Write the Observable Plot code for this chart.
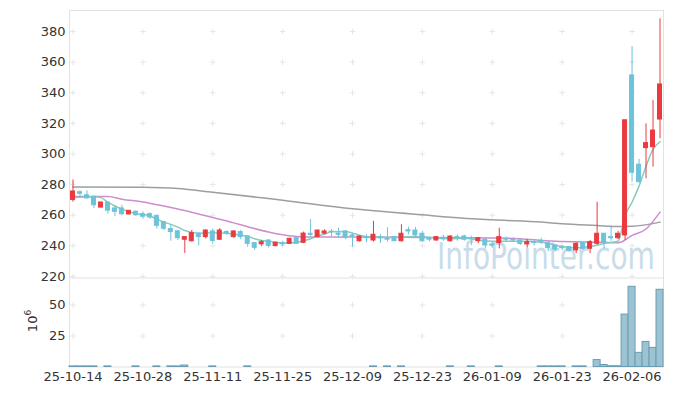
<!DOCTYPE html>
<html><head><meta charset="utf-8">
<script src="https://cdn.jsdelivr.net/npm/d3@7"></script>
<script src="https://cdn.jsdelivr.net/npm/@observablehq/plot@0.6"></script>
<style>
body{margin:0;background:#fff;}
#chart{width:673px;height:396px;position:relative;background:#fff;}
#chart svg{display:block;position:relative;}
#chart svg.wm{position:absolute;left:0;top:0;}
</style></head><body><div id="chart"></div>
<script>
const dates = ["25-10-14","25-10-15","25-10-16","25-10-17","25-10-20","25-10-21","25-10-22","25-10-23","25-10-24","25-10-27","25-10-28","25-10-29","25-10-30","25-10-31",
"25-11-03","25-11-04","25-11-05","25-11-06","25-11-07","25-11-10","25-11-11","25-11-12","25-11-13","25-11-14","25-11-17","25-11-18","25-11-19","25-11-20","25-11-21","25-11-24","25-11-25","25-11-26","25-11-27","25-11-28",
"25-12-01","25-12-02","25-12-03","25-12-04","25-12-05","25-12-08","25-12-09","25-12-10","25-12-11","25-12-12","25-12-15","25-12-16","25-12-17","25-12-18","25-12-19","25-12-22","25-12-23","25-12-24","25-12-26","25-12-29","25-12-30",
"26-01-02","26-01-05","26-01-06","26-01-07","26-01-08","26-01-09","26-01-12","26-01-13","26-01-14","26-01-15","26-01-16","26-01-19","26-01-20","26-01-21","26-01-22","26-01-23","26-01-26","26-01-27","26-01-28","26-01-29","26-01-30",
"26-02-02","26-02-03","26-02-04","26-02-05","26-02-06","26-02-09","26-02-10","26-02-11","26-02-12"];

const open  = [270,275,273,272,265,268.3,264.4,264.4,260.5,262.2,260.7,260.7,259.6,255.5,251,249.5,244,243,247.9,245.7,249.4,244,249,245.7,249,246.1,241.8,241,243.5,239.8,241.8,241.3,245.3,242,247.9,245.7,248,249.3,248,249.4,246.8,243,245.7,243.5,245.7,244.6,245.7,243,250.2,250,247.9,244.6,243.5,245.3,243,245.7,246.1,245,243,244,240.9,241.8,244.6,244,243.5,240.9,242.3,243.1,241.8,240.2,239,239.2,237,241.8,238.1,241.3,247.9,245.7,245,246.8,351.3,293,303.8,304.4,322.5];
const high  = [283,276,276,272.5,268.5,268.5,266.2,266.5,263,263,262.2,261.5,260,256,254,250,246,250,248.5,250.5,251,251.3,249.8,249.8,250,246.5,242,243.5,244,242.5,243,245,245.5,249,257.2,250.2,250.5,250.7,251.5,250,248.3,246.5,247.3,256,247.3,251.8,246,253.8,252.2,252,249.4,245.7,246,247,246.5,247,247,246.3,245.5,245,242.5,251.5,245.7,245.3,244.6,244.2,244.2,245,242.5,241,240,239.5,242,242.5,243.5,268.5,248,253.3,249.5,322,370.2,296.5,319.7,335,388.3];
const low   = [268.5,271,270.5,264.4,264.8,260.7,259.2,259.6,260.3,259,257.4,257.4,250.9,250,243,243.5,235,242.5,240,244.5,241.3,243.5,246.8,245,244,239,237,239.5,238.5,239.5,239.5,241,241,241.5,245.7,245.5,247.3,246,245,244,239.2,242.5,242,242.5,241.6,242.5,242.8,242.5,247.2,246,242.3,242.6,243,243,242.5,243,243,240.2,241.5,238,238.5,238,242.6,242.3,240.2,238.5,240,240.9,236.3,236,237,236,235,237,235,240.5,238,243,244,243.5,281.7,281,283.8,291.4,310];
const close = [275.5,274,271,266.5,268.3,263,262.2,260.7,262.9,260,259,258.5,253.1,251.2,249,245,245.7,248.3,245.7,250,243.2,250,248.3,249.4,245.7,241.3,238.7,242.4,240,242,241,244.6,241.3,248,247.2,250,249.4,248.9,247.2,245.3,246.1,246.1,245,247.2,245,244,243,247.9,249.4,246.8,243,244,245.7,244.6,246.1,245,244,244.4,245,240.2,240.2,245.7,244,243.5,241.3,242.4,241.8,242.4,238.5,237.6,238.5,236.5,241.3,238.1,242.4,247.9,241.8,245,247.9,322,287.7,281.6,307.1,315.3,345.4];
const volume = [0.5,0.5,0.5,0.5,0,0.5,0,0,0,0.5,0,0,0.5,0,0.5,0.5,1.2,0,0,0,0.5,0,0,0,0,0.5,0,0,0,0,0,0,0,0,0,0,0,0,0,0,0,0,0,0.5,0,0.5,0,0.5,0,0,0,0,0,0,0.5,0,0,0.5,0,0,0,0.5,0,0,0,0,0,0.5,0.5,0.5,0.5,0,0.5,0.5,0,5.6,1.6,0.6,0.6,42.3,64.7,11.4,20.2,15.4,62.3];

const ma5Idx = [0,3,4,5,6,7,9,11,12,13,14,15,16,17,18,20,22,24,25,26,27,28,30,32,34,35,36,37,39,40,41,42,44,46,48,50,52,54,56,59,61,64,67,69,70,72,74,76,78,79,80,81,82,83,84];
const ma5Val = [271.6,272,271.5,268.5,266,264,261,259.5,257.5,255.5,254,252.2,250,248.8,248.3,248.5,248.3,247,246.3,244.6,243.5,243,241.8,242.4,244.6,246.5,247.5,249.2,249.4,248.3,247,246,245.5,245.5,246,246,245,244.6,245,243.2,243,243,242.4,240.5,239.5,238.7,239.5,241.5,243,259.8,268.5,279,292,303,308];
const ma20Idx = [0,5,7,10,13,15,17,20,23,25,28,30,33,40,50,55,62,69,76,78,80,82,84];
const ma20Val = [272.3,272.2,270.5,268.7,266,264,262,258.5,255,252.5,249,247.2,245.8,245.7,245.5,245.3,245,243,242.3,242,246.8,251,262];
const ma60Idx = [0,10,15,20,27,30,40,50,54,60,67,70,75,78,80,84];
const ma60Val = [278.5,278.3,277.5,275,271.4,269.8,264.2,260.3,258.7,257,255.5,254.5,253.3,252.6,252.8,255.5];

const priceTicks = [220,240,260,280,300,320,340,360,380];
const volTicks = [25,50];
const xTicks = dates.filter((d,i)=>i%10===0);

const UP = "#ea3a3f", DOWN = "#6cc3da";
const data = dates.map((d,i)=>({date:d, open:open[i], high:high[i], low:low[i], close:close[i], vol:volume[i],
  color: close[i] >= open[i] ? UP : DOWN}));
const toLine = (idx, val) => idx.map((k,j)=>({date:dates[k], v:val[j]}));
const ma5 = toLine(ma5Idx, ma5Val), ma20 = toLine(ma20Idx, ma20Val), ma60 = toLine(ma60Idx, ma60Val);

const FONT = "DejaVu Sans";
const style = {fontFamily: FONT, fontSize: "13px", color: "#333", background: "transparent", overflow: "visible"};
const gridP = xTicks.flatMap(d=>priceTicks.map(v=>({date:d, v})));
const gridV = xTicks.flatMap(d=>volTicks.map(v=>({date:d, v})));

const price = Plot.plot({
  width: 673, height: 278, marginLeft: 69, marginRight: 10, marginTop: 10, marginBottom: 0.5,
  style,
  color: {type: "identity"},
  x: {type: "band", domain: dates, padding: 0, axis: null},
  y: {domain: [219, 393.7], ticks: priceTicks, tickSize: 0, tickPadding: 4, label: null},
  marks: [
    Plot.frame({stroke: "#e2e2e2"}),
    Plot.dot(gridP, {x: "date", y: "v", symbol: "plus", r: 2, stroke: "#e6e6e6", strokeWidth: 1}),
    Plot.line(ma60, {x: "date", y: "v", stroke: "#9e9e9e", strokeWidth: 1.5, curve: "monotone-x"}),
    Plot.line(ma20, {x: "date", y: "v", stroke: "#cf8dcd", strokeWidth: 1.5, curve: "monotone-x"}),
    Plot.line(ma5, {x: "date", y: "v", stroke: "#86cbbd", strokeWidth: 1.5, curve: "monotone-x"}),
    Plot.ruleX(data, {x: "date", y1: "low", y2: "high", stroke: "color", strokeWidth: 1}),
    Plot.barY(data, {x: "date", y1: "open", y2: "close", fill: "color", stroke: "color", strokeWidth: 1, insetLeft: 1.5, insetRight: 1.5})
  ]
});

const vol = Plot.plot({
  width: 673, height: 118, marginLeft: 69, marginRight: 10, marginTop: 0, marginBottom: 29.5,
  style,
  x: {type: "band", domain: dates, padding: 0, ticks: xTicks, tickSize: 0, tickPadding: 5, label: null},
  y: {domain: [0, 71.4], ticks: volTicks, tickSize: 0, tickPadding: 4, label: null},
  marks: [
    Plot.frame({anchor: "left", stroke: "#e2e2e2"}),
    Plot.frame({anchor: "right", stroke: "#e2e2e2"}),
    Plot.frame({anchor: "bottom", stroke: "#e2e2e2"}),
    Plot.dot(gridV, {x: "date", y: "v", symbol: "plus", r: 2, stroke: "#e6e6e6", strokeWidth: 1}),
    Plot.barY(data.filter(d=>d.vol>0), {x: "date", y: "vol", fill: "#9dc3d3", stroke: "#6a9db3", strokeWidth: 1})
  ]
});

const chart = document.getElementById("chart");

// watermark layer behind both panels, horizontally condensed by a transform
const wm = d3.select(chart).append("svg").attr("class", "wm")
  .attr("width", 673).attr("height", 396);
const wmText = wm.append("text")
  .attr("x", 0).attr("y", 0)
  .attr("text-anchor", "start")
  .attr("font-family", FONT).attr("font-size", 37)
  .attr("fill", "#c8dce9")
  .text("InfoPointer.com");
const natural = wmText.node().getComputedTextLength() || 340;
wmText.attr("transform", `translate(437,269) scale(${218 / natural},1)`);

chart.appendChild(price);
chart.appendChild(vol);

// unit label 10^6
const t = d3.select(vol).append("text")
  .attr("transform", "translate(37,43) rotate(-90)")
  .attr("text-anchor", "middle")
  .attr("font-family", FONT).attr("font-size", 13).attr("fill", "#333");
t.append("tspan").text("10");
t.append("tspan").attr("dy", -6).attr("font-size", 9).text("6");
</script>
</body></html>
